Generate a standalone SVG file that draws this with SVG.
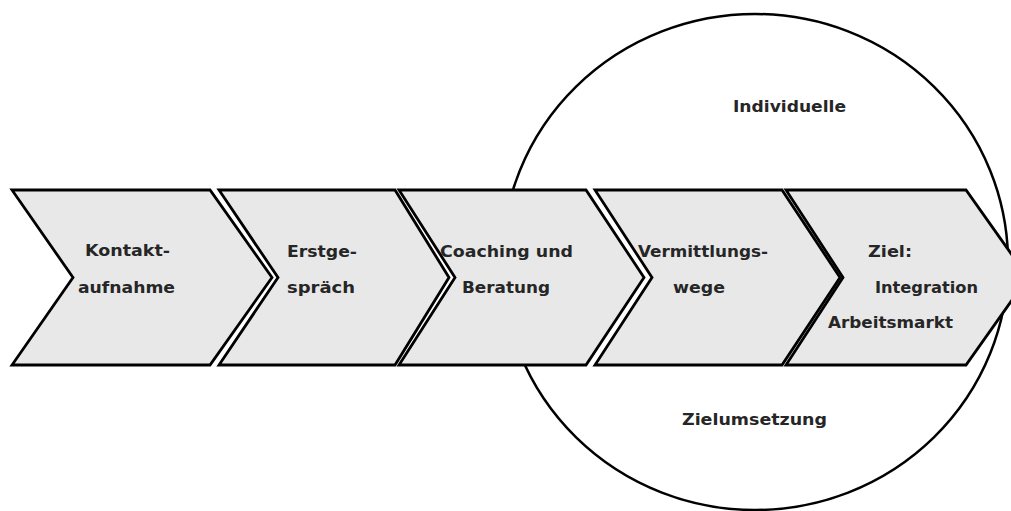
<svg xmlns="http://www.w3.org/2000/svg" width="1011" height="511" viewBox="0 0 1011 511">
<style>
.bg{fill:#ffffff}
.ring{fill:none;stroke:#000;stroke-width:2.5}
.chev{fill:#e8e8e8;stroke:#000;stroke-width:2.8;stroke-linejoin:miter}
.t{font-family:"DejaVu Sans","Liberation Sans",Arial,sans-serif;font-weight:bold;font-size:15.5px;fill:#262626}
</style>
<rect class="bg" x="0" y="0" width="1011" height="511"/>
<g id="circle">
<ellipse class="ring" cx="755" cy="262" rx="253" ry="248"/>
<text class="t" x="733" y="112" textLength="113" lengthAdjust="spacingAndGlyphs">Individuelle</text>
<text class="t" x="682" y="425" textLength="145" lengthAdjust="spacingAndGlyphs">Zielumsetzung</text>
</g>
<g id="connectors"></g>
<g id="step1">
<polygon class="chev" points="12,190 210,190 272,277.5 210,365 12,365 73,277.5"/>
<text class="t" x="85" y="256" textLength="85" lengthAdjust="spacingAndGlyphs">Kontakt-</text>
<text class="t" x="78" y="293" textLength="97" lengthAdjust="spacingAndGlyphs">aufnahme</text>
</g>
<g id="step2">
<polygon class="chev" points="219,190 395,190 449,277.5 395,365 219,365 278,277.5"/>
<text class="t" x="287" y="257" textLength="70" lengthAdjust="spacingAndGlyphs">Erstge-</text>
<text class="t" x="287" y="293" textLength="68" lengthAdjust="spacingAndGlyphs">spräch</text>
</g>
<g id="step3">
<polygon class="chev" points="399,190 586,190 644,277.5 586,365 399,365 455,277.5"/>
<text class="t" x="440" y="257" textLength="133" lengthAdjust="spacingAndGlyphs">Coaching und</text>
<text class="t" x="462" y="293" textLength="88" lengthAdjust="spacingAndGlyphs">Beratung</text>
</g>
<g id="step4">
<polygon class="chev" points="595,190 782,190 840,277.5 782,365 595,365 652,277.5"/>
<text class="t" x="638" y="257" textLength="130" lengthAdjust="spacingAndGlyphs">Vermittlungs-</text>
<text class="t" x="673" y="293" textLength="52" lengthAdjust="spacingAndGlyphs">wege</text>
</g>
<g id="step5">
<polygon class="chev" points="786,190 966,190 1028,277.5 966,365 786,365 843,277.5"/>
<text class="t" x="868" y="257" textLength="44" lengthAdjust="spacingAndGlyphs">Ziel:</text>
<text class="t" x="875" y="293" textLength="103" lengthAdjust="spacingAndGlyphs">Integration</text>
<text class="t" x="828" y="328" textLength="125" lengthAdjust="spacingAndGlyphs">Arbeitsmarkt</text>
</g>
</svg>
